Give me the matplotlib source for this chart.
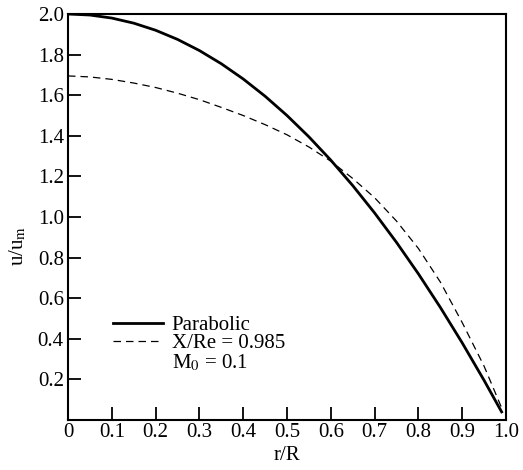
import matplotlib
matplotlib.use("Agg")
import matplotlib.pyplot as plt
from matplotlib.lines import Line2D

plt.rcParams['font.family'] = ['Liberation Serif', 'DejaVu Serif']
plt.rcParams['mathtext.fontset'] = 'stix'

# values
r_para = [0.0, 0.05, 0.1, 0.15, 0.2, 0.25, 0.3, 0.35, 0.4, 0.45, 0.5,
          0.55, 0.6, 0.65, 0.7, 0.75, 0.8, 0.85, 0.9, 0.95, 0.99]
u_para = [2.0, 1.995, 1.98, 1.955, 1.92, 1.875, 1.82, 1.755, 1.68, 1.595, 1.5,
          1.395, 1.28, 1.155, 1.02, 0.875, 0.72, 0.555, 0.38, 0.195, 0.04]

r_dev = [0.0, 0.05, 0.1, 0.15, 0.2, 0.25, 0.3, 0.35, 0.4, 0.45, 0.5,
         0.55, 0.6, 0.65, 0.7, 0.75, 0.8, 0.85, 0.9, 0.95, 0.99]
u_dev = [1.695, 1.69, 1.678, 1.66, 1.638, 1.61, 1.578, 1.54, 1.50, 1.455, 1.405,
         1.345, 1.275, 1.19, 1.095, 0.98, 0.845, 0.68, 0.48, 0.265, 0.06]

xticks = [0, 0.1, 0.2, 0.3, 0.4, 0.5, 0.6, 0.7, 0.8, 0.9, 1.0]
xlabels = ["0", "0.1", "0.2", "0.3", "0.4", "0.5", "0.6", "0.7", "0.8", "0.9", "1.0"]
yticks = [0.2, 0.4, 0.6, 0.8, 1.0, 1.2, 1.4, 1.6, 1.8, 2.0]
ylabels = ["0.2", "0.4", "0.6", "0.8", "1.0", "1.2", "1.4", "1.6", "1.8", "2.0"]

fs = 15

fig = plt.figure(figsize=(5.23, 4.70), dpi=100)
ax = fig.add_axes([0.130, 0.1064, 0.8375, 0.8638])

ax.plot(r_para, u_para, color="black", linewidth=2.0)
ax.plot(r_dev, u_dev, color="black", linewidth=0.9, linestyle=(0, (6, 4)))

ax.set_xlim(0, 1.0)
ax.set_ylim(0, 2.0)
ax.set_xticks(xticks)
ax.set_xticklabels(xlabels)
ax.set_yticks(yticks)
ax.set_yticklabels(ylabels)
ax.tick_params(direction="in", length=9.5, width=1.3, labelsize=fs)
ax.tick_params(axis="x", pad=2)
ax.tick_params(axis="y", pad=3)
for s in ax.spines.values():
    s.set_linewidth(1.5)

ax.set_xlabel("r/R", fontsize=fs, labelpad=3)
ax.set_ylabel(r"u/u$_{\rm m}$", fontsize=fs)
ax.yaxis.set_label_coords(-0.09, 0.43)

handles = [
    Line2D([], [], color="black", linewidth=2.0),
    Line2D([], [], color="black", linewidth=0.9, linestyle=(0, (6, 4))),
    Line2D([], [], color="none"),
]
labels = ["Parabolic", "X/Re = 0.985", r"M$_0$ = 0.1"]
ax.legend(handles, labels, loc="lower left", bbox_to_anchor=(0.08, 0.09),
          frameon=False, fontsize=fs, handlelength=2.4, handletextpad=0.4,
          labelspacing=-0.05, borderpad=0)

fig.savefig("out.png", dpi=100)
